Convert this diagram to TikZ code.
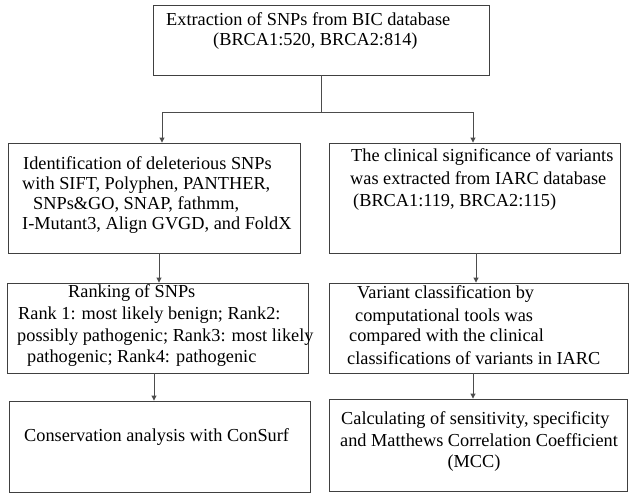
\documentclass[tikz,border=0pt]{standalone}
\usepackage{fontspec}
\setmainfont{Liberation Serif}
\usetikzlibrary{arrows.meta}
\tikzset{
  box/.style={draw=black!75, line width=0.9pt, rectangle, inner sep=0pt},
  conn/.style={draw=black!70, line width=0.9pt},
  arr/.style={conn, -{Triangle[length=5pt,width=5pt]}},
  txt/.style={inner sep=0pt, anchor=base west, font=\fontsize{18.3}{21.8}\selectfont},
  txtc/.style={txt, anchor=base},
}
\begin{document}
\begin{tikzpicture}[x=1pt,y=-1pt]
\useasboundingbox (0,0) rectangle (634,495);
% boxes
\node[box, minimum width=336pt, minimum height=70pt] (A) at (321,40) {};
\node[box, minimum width=292pt, minimum height=110pt] (B) at (154,198) {};
\node[box, minimum width=291pt, minimum height=110pt] (C) at (474.5,198) {};
\node[box, minimum width=301pt, minimum height=90pt] (D) at (157.5,328) {};
\node[box, minimum width=299pt, minimum height=90pt] (E) at (478.5,328) {};
\node[box, minimum width=301pt, minimum height=91pt] (F) at (159.5,446.5) {};
\node[box, minimum width=298pt, minimum height=92pt] (G) at (478,445) {};
% texts
\node[txt] (a1) at (166,26) {Extraction of SNPs from BIC database};
\node[txt] (a2) at (213,46) {(BRCA1:520, BRCA2:814)};
\node[txt] (b1) at (23,169) {Identification of deleterious SNPs};
\node[txt] (b2) at (22,189) {with SIFT, Polyphen, PANTHER,};
\node[txt] (b3) at (33,209) {SNPs\&GO, SNAP, fathmm,};
\node[txt] (b4) at (22,229) {I-Mutant3, Align GVGD, and FoldX};
\node[txt] (c1) at (351,161) {The clinical significance of variants};
\node[txt] (c2) at (350,184) {was extracted from IARC database};
\node[txt] (c3) at (353,206) {(BRCA1:119, BRCA2:115)};
\node[txt] (d1) at (68,297) {Ranking of SNPs};
\node[txt] (d2) at (18,319) {Rank 1: most likely benign; Rank2:};
\node[txt] (d3) at (17,341) {possibly pathogenic; Rank3: most likely};
\node[txt] (d4) at (27,362) {pathogenic; Rank4: pathogenic};
\node[txt] (e1) at (357,298) {Variant classification by};
\node[txt] (e2) at (355,321) {computational tools was};
\node[txt] (e3) at (349,341) {compared with the clinical};
\node[txt] (e4) at (347,364) {classifications of variants in IARC};
\node[txt] (f1) at (24,441) {Conservation analysis with ConSurf};
\node[txt] (g1) at (341,424) {Calculating of sensitivity, specificity};
\node[txt] (g2) at (340,446) {and Matthews Correlation Coefficient};
\node[txtc] (g3) at (474,467) {(MCC)};
% connector coordinates
\coordinate (j) at (321,112);
\coordinate (jl) at (162,112);
\coordinate (jr) at (473,112);
\coordinate (xbd) at (159,0);
\coordinate (xce) at (476,0);
\coordinate (xdf) at (154,0);
\coordinate (xeg) at (473,0);
% connectors
\draw[conn] (A.south) -- (j);
\draw[arr] (j) -- (jl) -- (jl |- B.north);
\draw[arr] (j) -- (jr) -- (jr |- C.north);
\draw[arr] (B.south -| xbd) -- (D.north -| xbd);
\draw[arr] (C.south -| xce) -- (E.north -| xce);
\draw[arr] (D.south -| xdf) -- (F.north -| xdf);
\draw[arr] (E.south -| xeg) -- (G.north -| xeg);
\end{tikzpicture}
\end{document}
